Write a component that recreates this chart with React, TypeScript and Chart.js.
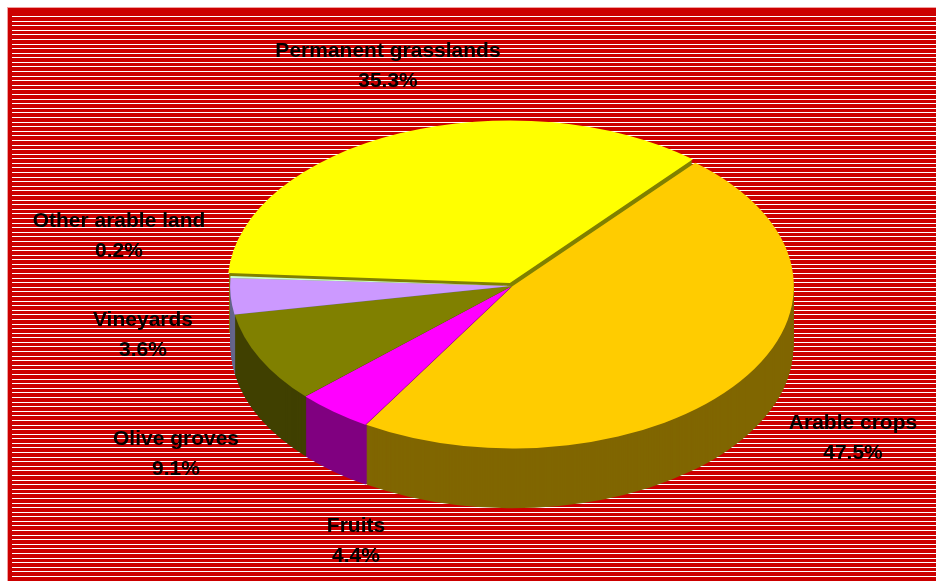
import React, { useEffect, useRef } from "react";
import { Chart, registerables } from "chart.js";

Chart.register(...registerables);

const categories = ["Arable crops", "Fruits", "Olive groves", "Vineyards", "Other arable land", "Permanent grasslands"];
const shares = [47.5, 4.4, 9.1, 3.6, 0.2, 35.3];
const topColors = ["#FFCC00", "#FF00FF", "#808000", "#CC99FF", "#CCFFCC", "#FFFF00"];
const wallColors = ["#806600", "#800080", "#404000", "#66668C", "#668066", "#808000"];
const explode = [2, 2, 2, 2, 2, 22];
const labelCenters = [
  [853, 423], [356, 526], [176, 439], [143, 320], [119, 221], [388, 51],
];

const TILT = 162 / 281;
const DEPTH = 60;
const CENTER_Y = 286;

const pie3d = {
  id: "pie3d",
  beforeDraw(chart: any) {
    const { ctx, width, height } = chart;
    ctx.save();
    ctx.fillStyle = "#FFFFFF";
    ctx.fillRect(0, 0, width, height);
    ctx.fillStyle = "#F0A0A0";
    ctx.fillRect(7, 7, width - 7, height - 7);
    ctx.fillStyle = "#CC0000";
    ctx.fillRect(8, 8, width - 8, height - 8);
    ctx.fillStyle = "#FFFFFF";
    for (let i = 0; ; i++) {
      const y = Math.round(16 + i * 4.59);
      if (y >= height) break;
      ctx.fillRect(12, y, width - 12, 1);
    }
    ctx.restore();
  },
  beforeDatasetsDraw(chart: any) {
    const { ctx } = chart;
    const arcs = chart.getDatasetMeta(0).data;
    const first = arcs[0];
    ctx.save();
    ctx.translate(0, CENTER_Y);
    ctx.scale(1, TILT);
    ctx.translate(0, -first.y);
    for (let d = DEPTH; d >= 1; d--) {
      arcs.forEach((arc: any, i: number) => {
        const mid = (arc.startAngle + arc.endAngle) / 2;
        const shift = (arc.options.offset || 0) / 4;
        const x = arc.x + Math.cos(mid) * shift;
        const y = arc.y + Math.sin(mid) * shift + d / TILT;
        ctx.beginPath();
        ctx.moveTo(x, y);
        ctx.arc(x, y, arc.outerRadius, arc.startAngle, arc.endAngle);
        ctx.closePath();
        ctx.fillStyle = wallColors[i];
        ctx.fill();
      });
    }
  },
  afterDatasetsDraw(chart: any) {
    const { ctx } = chart;
    ctx.restore();
    ctx.save();
    ctx.font = 'bold 21px "Liberation Sans", Arial, sans-serif';
    ctx.fillStyle = "#000000";
    ctx.textAlign = "center";
    ctx.textBaseline = "middle";
    categories.forEach((name, i) => {
      const [x, y] = labelCenters[i];
      ctx.fillText(name, x, y);
      ctx.fillText(shares[i].toFixed(1) + "%", x, y + 30);
    });
    ctx.restore();
  },
};

export default function App() {
  const ref = useRef<HTMLCanvasElement>(null);
  useEffect(() => {
    const chart = new Chart(ref.current!, {
      type: "pie",
      data: {
        labels: categories,
        datasets: [
          {
            data: shares,
            backgroundColor: topColors,
            borderWidth: 0,
            offset: explode,
            radius: 281,
            clip: false,
          } as any,
        ],
      },
      options: {
        responsive: false,
        animation: false,
        rotation: 40.5,
        layout: { padding: { left: 231, right: 143, top: 9, bottom: 10 } },
        plugins: { legend: { display: false }, tooltip: { enabled: false }, title: { display: false } },
      },
      plugins: [pie3d],
    });
    return () => chart.destroy();
  }, []);
  return (
    <canvas
      ref={ref}
      width={936}
      height={581}
      style={{ position: "fixed", left: 0, top: 0, width: 936, height: 581, display: "block" }}
    />
  );
}
